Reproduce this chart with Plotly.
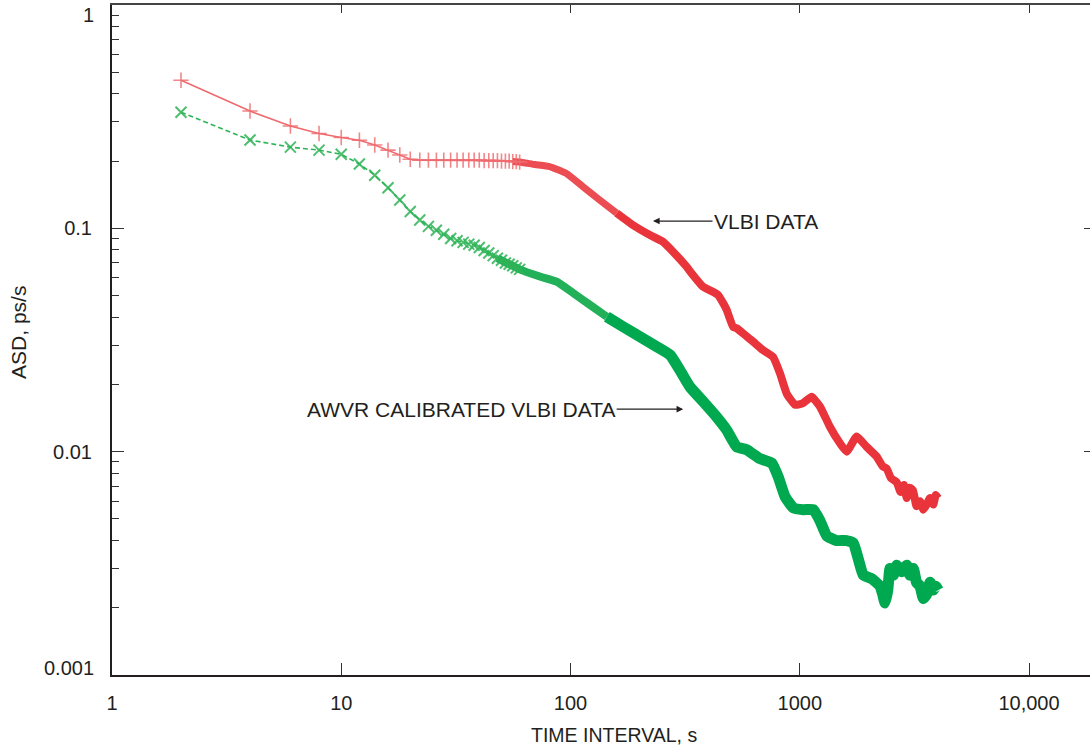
import math
import plotly.graph_objects as go

# ---------------- data ----------------
red_tau_sparse = [2, 4, 6, 8, 10, 12, 14, 16, 18, 20, 22, 24, 26, 28, 30,
                  32, 34, 36, 38, 40, 42, 44, 46, 48, 50, 52, 54, 56, 58, 60]
red_asd_sparse = [0.46, 0.335, 0.287, 0.266, 0.255, 0.248, 0.236, 0.224, 0.213, 0.204,
                  0.202, 0.202, 0.202, 0.202, 0.202, 0.202, 0.202, 0.202, 0.202, 0.202,
                  0.201, 0.201, 0.201, 0.201, 0.200, 0.200, 0.200, 0.199, 0.199, 0.198]

red_tau_mid = [56, 60, 70, 81, 96, 113, 134, 159]
red_asd_mid = [0.199, 0.198, 0.193, 0.189, 0.176, 0.154, 0.134, 0.117]

red_tau_dense = [159, 187, 222, 253, 280, 321, 342, 378,
                 418, 440, 463, 480, 512, 531, 577, 626, 691, 764, 820, 877, 954,
                 1033, 1127, 1226, 1355, 1498, 1602, 1772, 1959, 2166, 2300, 2395,
                 2500, 2648, 2750, 2850, 2928, 3020, 3119, 3230, 3346, 3460, 3578,
                 3700, 3823, 3920, 4010]
red_asd_dense = [0.117, 0.1035, 0.0933, 0.0871,
                 0.0786, 0.0673, 0.0618, 0.0548, 0.0520, 0.0503, 0.0463, 0.0431, 0.0362,
                 0.0357, 0.0333, 0.0311, 0.0285, 0.0266, 0.0224, 0.0182, 0.0162, 0.0165,
                 0.0176, 0.0159, 0.0129, 0.0109, 0.0100, 0.0117, 0.0105, 0.0095, 0.0086,
                 0.0084, 0.0076, 0.0073, 0.0066, 0.0071, 0.0062, 0.0069, 0.0067, 0.0057,
                 0.0060, 0.0055, 0.0058, 0.0062, 0.0058, 0.0064, 0.0062]

green_tau_sparse = [2, 4, 6, 8, 10, 12, 14, 16, 18, 20, 22, 24, 26, 28, 30,
                    32, 34, 36, 38, 40, 42, 44, 46, 48, 50, 52, 54, 56, 58, 60]
green_asd_sparse = [0.331, 0.2485, 0.231, 0.224, 0.2145, 0.194, 0.173, 0.152, 0.134, 0.119,
                    0.109, 0.102, 0.098, 0.094, 0.090, 0.088, 0.0865, 0.085, 0.084, 0.082,
                    0.0795, 0.0775, 0.0755, 0.0735, 0.072, 0.070, 0.069, 0.068, 0.0665, 0.0655]

green_tau_mid = [48, 60, 74, 87, 103, 122, 144]
green_asd_mid = [0.0735, 0.0655, 0.0607, 0.0577, 0.0512, 0.0453, 0.0402]

green_tau_dense = [144, 170, 201, 238, 272, 300, 332, 380, 434,
                   480, 531, 587, 671, 755, 806, 862, 937, 1036, 1146, 1226, 1311, 1449,
                   1602, 1713, 1801, 1893, 2060, 2239, 2300, 2354, 2420, 2475, 2560, 2648,
                   2780, 2928, 3020, 3129, 3230, 3346, 3460, 3578, 3700, 3823, 3920, 4022]
green_asd_dense = [0.0402, 0.0362, 0.0327, 0.0295,
                   0.0271, 0.0232, 0.0195, 0.0167, 0.0143, 0.0125, 0.0105, 0.0102, 0.0093,
                   0.0089, 0.0077, 0.0063, 0.0056, 0.0055, 0.0055, 0.0049, 0.0042, 0.0040,
                   0.0040, 0.0039, 0.0033, 0.0028, 0.0027, 0.0025, 0.0023, 0.0021, 0.0024,
                   0.0030, 0.0028, 0.0031, 0.0029, 0.0031, 0.0028, 0.0030, 0.0026, 0.0025,
                   0.0022, 0.0023, 0.0026, 0.0024, 0.0025, 0.0024]

x_tickvals = [1, 10, 100, 1000, 10000]
x_ticktext = ["1", "10", "100", "1000", "10,000"]
y_tickvals = [1, 0.1, 0.01, 0.001]
y_ticktext = ["", "0.1", "0.01", ""]

# ---------------- styling ----------------
RED = "#e8343a"
RED_MID = "#ec4d53"
RED_LIGHT = "#ef6a6e"
GREEN = "#00a84f"
GREEN_MID = "#22b158"
GREEN_LIGHT = "#2fb457"
TXT = "#231f20"
FONT = "Liberation Sans, Arial, sans-serif"

X_MAX_LOG = 4.266  # right edge of the plotting area

fig = go.Figure()

fig.add_trace(go.Scatter(
    x=red_tau_mid, y=red_asd_mid, mode="lines",
    line=dict(color=RED_MID, width=7, shape="spline", smoothing=0.4),
    hoverinfo="skip", showlegend=False))
fig.add_trace(go.Scatter(
    x=red_tau_dense, y=red_asd_dense, mode="lines",
    line=dict(color=RED, width=8, shape="spline", smoothing=0.4),
    hoverinfo="skip", showlegend=False))
fig.add_trace(go.Scatter(
    x=red_tau_sparse, y=red_asd_sparse, mode="lines+markers",
    line=dict(color=RED_LIGHT, width=1.6),
    marker=dict(symbol="cross-thin", size=11, color=RED_LIGHT,
                line=dict(width=1.6, color=RED_LIGHT), opacity=0.8),
    hoverinfo="skip", showlegend=False))

fig.add_trace(go.Scatter(
    x=green_tau_mid, y=green_asd_mid, mode="lines",
    line=dict(color=GREEN_MID, width=8, shape="spline", smoothing=0.4),
    xaxis="x2", yaxis="y2", hoverinfo="skip", showlegend=False))
fig.add_trace(go.Scatter(
    x=green_tau_dense, y=green_asd_dense, mode="lines",
    line=dict(color=GREEN, width=11, shape="spline", smoothing=0.4),
    xaxis="x2", yaxis="y2", hoverinfo="skip", showlegend=False))
fig.add_trace(go.Scatter(
    x=green_tau_sparse, y=green_asd_sparse, mode="lines+markers",
    line=dict(color=GREEN_LIGHT, width=1.6, dash="5px,3px"),
    marker=dict(symbol="x-thin", size=11, color=GREEN_LIGHT,
                line=dict(width=2, color=GREEN_LIGHT), opacity=0.85),
    xaxis="x2", yaxis="y2", hoverinfo="skip", showlegend=False))

minor_y = [k * 10.0 ** e for e in (-3, -2, -1) for k in range(2, 10)]

fig.update_layout(
    width=1090, height=748,
    margin=dict(l=112, r=0, t=5, b=73),
    paper_bgcolor="white", plot_bgcolor="white",
    font=dict(family=FONT, size=20, color=TXT),
    xaxis=dict(type="log", range=[0, X_MAX_LOG],
               tickvals=x_tickvals, ticktext=x_ticktext,
               ticks="inside", ticklen=12, tickwidth=1, tickcolor="#333",
               showline=True, linewidth=2, linecolor=TXT, mirror=False,
               showgrid=False, zeroline=False, ticklabelstandoff=9,
               tickfont=dict(size=20, color=TXT)),
    yaxis=dict(type="log", range=[-3, 0],
               tickvals=y_tickvals, ticktext=y_ticktext,
               ticks="inside", ticklen=12, tickwidth=1, tickcolor="#333",
               minor=dict(tickvals=minor_y, ticks="inside", ticklen=7,
                          tickwidth=1, tickcolor="#333", showgrid=False),
               showline=True, linewidth=2, linecolor=TXT, mirror=False,
               showgrid=False, zeroline=False, ticklabelstandoff=14,
               tickfont=dict(size=20, color=TXT)),
    xaxis2=dict(type="log", range=[0, X_MAX_LOG], overlaying="x", side="top",
                anchor="y2", tickvals=x_tickvals, showticklabels=False,
                ticks="inside", ticklen=8, tickwidth=1, tickcolor="#333",
                showline=True, linewidth=1.5, linecolor="#444",
                showgrid=False, zeroline=False),
    yaxis2=dict(type="log", range=[-3, 0], overlaying="y", side="right",
                anchor="x2", tickvals=[0.1, 0.01], showticklabels=False,
                ticks="inside", ticklen=6, tickwidth=1, tickcolor="#333",
                showline=False, showgrid=False, zeroline=False),
)

ann_font = dict(family=FONT, size=21, color=TXT)

# curve labels with arrows
fig.add_annotation(x=math.log10(229), y=math.log10(0.1078), xref="x", yref="y",
                   text="VLBI DATA", showarrow=True, ax=113, ay=0,
                   arrowhead=2, arrowsize=1.1, arrowwidth=1.2, arrowcolor=TXT,
                   font=ann_font, standoff=0)
fig.add_annotation(x=math.log10(310), y=math.log10(0.0155), xref="x", yref="y",
                   text="AWVR CALIBRATED VLBI DATA", showarrow=True, ax=-222, ay=0,
                   arrowhead=2, arrowsize=1.1, arrowwidth=1.2, arrowcolor=TXT,
                   font=ann_font, standoff=0)

# end tick labels of the y axis (shifted inside the frame as in the reference)
fig.add_annotation(x=-0.0164, y=0.985, xref="paper", yref="paper", text="1",
                   showarrow=False, xanchor="right", yanchor="middle",
                   font=dict(family=FONT, size=20, color=TXT))
fig.add_annotation(x=-0.0164, y=0.010, xref="paper", yref="paper", text="0.001",
                   showarrow=False, xanchor="right", yanchor="middle",
                   font=dict(family=FONT, size=20, color=TXT))

# axis titles
fig.add_annotation(x=0.5133, y=-0.0896, xref="paper", yref="paper",
                   text="TIME INTERVAL, s", showarrow=False,
                   xanchor="center", yanchor="middle",
                   font=dict(family=FONT, size=19.5, color=TXT))
fig.add_annotation(x=-0.0951, y=0.512, xref="paper", yref="paper",
                   text="ASD, ps/s", showarrow=False, textangle=-90,
                   xanchor="center", yanchor="middle",
                   font=dict(family=FONT, size=21, color=TXT))

fig.write_html("out.html",
               config={"displayModeBar": False},
               post_script="document.body.style.margin='0px';"
                           "document.body.style.overflow='hidden';")
